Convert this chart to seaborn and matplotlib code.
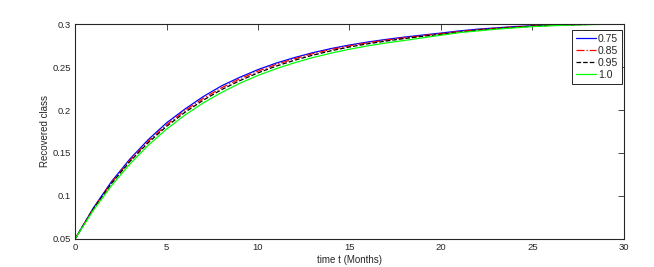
import numpy as np
import pandas as pd
import seaborn as sns
import matplotlib
matplotlib.use("Agg")
import matplotlib.pyplot as plt

# time in months
t = list(range(0, 31))

# recovered class for each fractional order
r_075 = [0.050, 0.086, 0.117, 0.143, 0.1655, 0.185, 0.201, 0.2155, 0.228, 0.238,
         0.247, 0.2546, 0.261, 0.2667, 0.2715, 0.2756, 0.2791, 0.2821, 0.2848, 0.2872,
         0.2895, 0.292, 0.294, 0.2955, 0.297, 0.298, 0.2988, 0.2993, 0.2997, 0.2999, 0.300]
r_085 = [0.050, 0.0853, 0.1157, 0.1414, 0.1636, 0.1828, 0.1992, 0.2134, 0.2257, 0.2362,
         0.2452, 0.2530, 0.2597, 0.2655, 0.2704, 0.2746, 0.2782, 0.2813, 0.2840, 0.2865,
         0.2888, 0.2912, 0.2934, 0.2951, 0.2966, 0.2977, 0.2986, 0.2992, 0.2996, 0.2999, 0.300]
r_095 = [0.050, 0.0847, 0.1147, 0.1401, 0.1620, 0.1809, 0.1972, 0.2113, 0.2236, 0.2341,
         0.2432, 0.2511, 0.2579, 0.2638, 0.2689, 0.2733, 0.2770, 0.2802, 0.2831, 0.2857,
         0.2880, 0.2905, 0.2928, 0.2946, 0.2962, 0.2974, 0.2984, 0.2991, 0.2995, 0.2998, 0.300]
r_100 = [0.050, 0.0833, 0.1122, 0.1372, 0.1589, 0.1777, 0.1940, 0.2081, 0.2203, 0.2310,
         0.2402, 0.2481, 0.2550, 0.2610, 0.2662, 0.2707, 0.2746, 0.2780, 0.2809, 0.2840,
         0.2870, 0.2900, 0.2920, 0.2940, 0.2955, 0.2970, 0.2980, 0.2987, 0.2993, 0.2997, 0.300]

labels = ["0.75", "0.85", "0.95", "1.0"]
series = [r_075, r_085, r_095, r_100]
colors = ["#0000ff", "#ff0000", "#000000", "#00ff00"]
styles = ["-", "-.", "--", "-"]

x_ticks = [0, 5, 10, 15, 20, 25, 30]
y_ticks = [0.05, 0.1, 0.15, 0.2, 0.25, 0.3]
y_tick_labels = ["0.05", "0.1", "0.15", "0.2", "0.25", "0.3"]

sns.set_style("white")
plt.rcParams["font.family"] = ["Liberation Sans", "DejaVu Sans"]

fig = plt.figure(figsize=(6.54, 2.67), dpi=100)
ax = fig.add_axes([0.1147, 0.105, 0.8394, 0.805])

for lab, vals, col, ls in zip(labels, series, colors, styles):
    df = pd.DataFrame({"t": t, "v": vals})
    sns.lineplot(data=df, x="t", y="v", ax=ax, color=col, linestyle=ls,
                 linewidth=0.9, label=lab)

ax.set_xlim(0, 30)
ax.set_ylim(0.05, 0.3)
ax.set_xticks(x_ticks)
ax.set_xticklabels([str(v) for v in x_ticks])
ax.set_yticks(y_ticks)
ax.set_yticklabels(y_tick_labels)
ax.tick_params(direction="in", length=4, width=0.6, labelsize=6.8,
               top=True, right=True, colors="#262626", pad=3)
for s in ax.spines.values():
    s.set_linewidth(0.8)
    s.set_color("#262626")

ax.set_xlabel("time t (Months)", fontsize=7, labelpad=2)
ax.set_ylabel("Recovered class", fontsize=7, labelpad=2)

leg = ax.legend(loc="upper right", bbox_to_anchor=(0.996, 0.972), fontsize=7.5,
                frameon=True, fancybox=False, framealpha=1, edgecolor="#262626",
                handlelength=1.9, handletextpad=0.2, borderpad=0.35,
                labelspacing=0.2, borderaxespad=0)
leg.get_frame().set_linewidth(0.7)

fig.savefig("out.png", dpi=100)
